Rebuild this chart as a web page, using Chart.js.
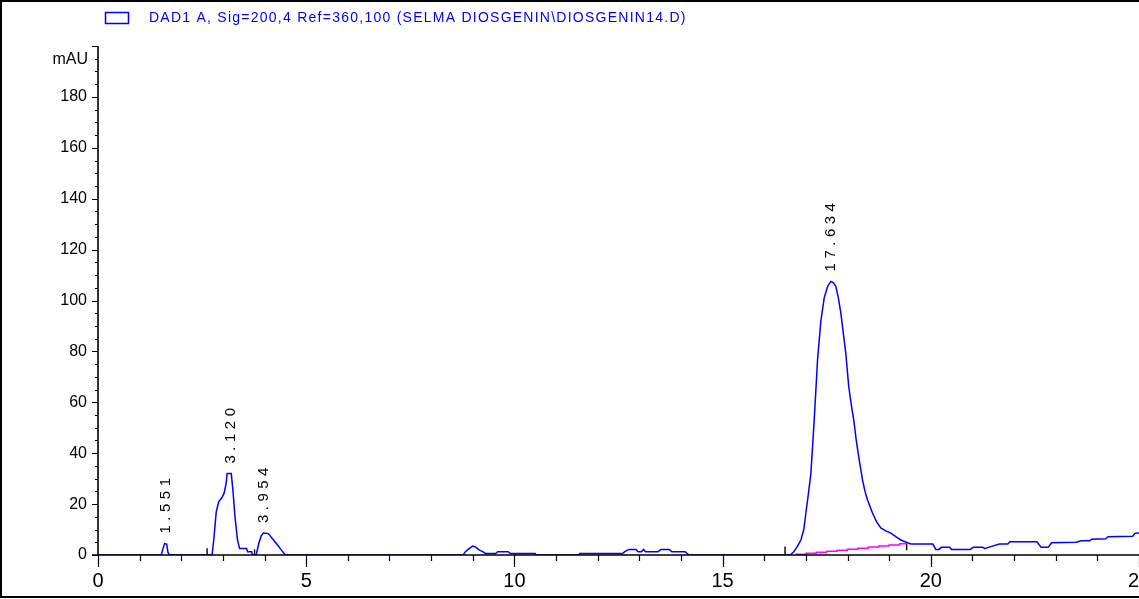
<!DOCTYPE html>
<html>
<head>
<meta charset="utf-8">
<title>DAD1 A - DIOSGENIN14</title>
<script src="https://cdn.jsdelivr.net/npm/chart.js@4.4.1/dist/chart.umd.min.js"></script>
<style>
  html, body { margin: 0; padding: 0; background: #fff; }
  #wrap { width: 1139px; height: 599px; }
</style>
</head>
<body>
<div id="wrap"><canvas id="grafico" width="1139" height="599"></canvas></div>
<script>
/* cromatograma DAD1 A - diosgenina */

const legendText = "DAD1 A, Sig=200,4 Ref=360,100 (SELMA DIOSGENIN\\DIOSGENIN14.D)";

// sinal (min, mAU)
const traceTimes = [
  0, 1.52, 1.56, 1.6, 1.65, 1.68, 1.72,
  2.74, 2.78, 2.84, 2.9, 2.97, 3.03, 3.08, 3.1, 3.2, 3.24, 3.29, 3.35, 3.4, 3.57, 3.59, 3.69, 3.71,
  3.8, 3.86, 3.92, 3.97, 4.09, 4.2, 4.3, 4.4, 4.5,
  8.77, 8.82, 8.9, 9.0, 9.08, 9.15, 9.25, 9.3, 9.55, 9.6, 9.85, 9.9, 10.5, 10.52,
  11.55, 11.57, 12.6, 12.65, 12.75, 12.92, 12.97, 13.05, 13.1, 13.15, 13.45, 13.52, 13.72, 13.78, 14.1, 14.15, 14.19,
  16.62, 16.71, 16.8, 16.88, 16.95, 17.0, 17.06, 17.12, 17.2, 17.28, 17.36, 17.44, 17.52, 17.6, 17.66,
  17.72, 17.78, 17.84, 17.9, 17.96, 18.03, 18.1, 18.15, 18.21, 18.27, 18.36, 18.42, 18.48, 18.6, 18.7,
  18.8, 18.92, 19.04, 19.16, 19.28, 19.44, 19.52,
  20.05, 20.12, 20.2, 20.25, 20.45, 20.5, 20.95, 21.02, 21.25, 21.3, 21.38, 21.65, 21.85, 21.9, 22.55,
  22.65, 22.82, 22.9, 23.5, 23.6, 23.82, 23.86, 24.2, 24.26, 24.85, 24.9, 25
];
const traceValues = [
  0, 0, 2.5, 4.5, 4.3, 1.0, 0,
  0, 6, 17, 21, 22.4, 24.4, 28.3, 32, 32, 25.5, 15, 5.9, 2.6, 2.6, 1.3, 1.3, 0,
  0, 4.5, 7.5, 8.6, 8.4, 6.2, 4.2, 2.0, 0,
  0, 1.2, 2.4, 3.5, 3.0, 2.0, 1.2, 0.6, 0.6, 1.3, 1.3, 0.6, 0.6, 0,
  0, 0.6, 0.6, 1.3, 2.2, 2.2, 1.3, 1.3, 2.2, 1.3, 1.3, 2.2, 2.2, 1.3, 1.3, 0.6, 0,
  0, 1.3, 3.5, 5.9, 10, 16.5, 24, 32, 53, 76.6, 92, 101, 105.5, 107.5, 107,
  105.5, 101, 95, 87, 79, 66, 58, 53, 45, 38.5, 29.5, 25, 21.6, 16.5, 13,
  10.6, 9.5, 8.6, 7.2, 5.9, 4.8, 4.3,
  4.3, 2.2, 2.2, 3.0, 3.0, 2.2, 2.2, 3.0, 3.0, 2.5, 3.0, 4.3, 4.3, 5.2, 5.2,
  3.0, 3.0, 4.8, 5.0, 5.6, 5.6, 6.2, 6.4, 7.2, 7.4, 8.5, 8.6
];

// linha de base da integração do pico 17.634
const baseTimes = [16.75, 17.0, 17.25, 17.5, 17.75, 18.0, 18.25, 18.5, 18.75, 19.0, 19.25, 19.42];
const baseValues = [0.3, 0.7, 1.1, 1.5, 1.9, 2.3, 2.7, 3.1, 3.5, 3.9, 4.4, 4.4];

// marcas de início/fim de integração
const markerTimes = [2.62, 3.76, 16.5, 19.42];
const markerLow = [0, 0, 0, 1.9];
const markerHigh = [2.7, 2.2, 3.3, 4.4];

// picos anotados
const peakNames = ["1.551", "3.120", "3.954", "17.634"];
const peakTimes = [1.63, 3.18, 3.99, 17.6];
const peakTops = [4.5, 32, 8.6, 107.5];

const xMin = 0, xMax = 25, xMajor = 5, xMinor = 1;
const yMin = 0, yMax = 200, yMajor = 20, yMinor = 5;
const yUnit = "mAU";

const AZUL = "#0000ff";
const MAGENTA = "#ff00ff";

(function () {
  const pts = (xs, ys) => xs.map((x, i) => ({ x, y: ys[i] }));

  const markerData = [];
  markerTimes.forEach((t, i) => {
    markerData.push({ x: t, y: markerLow[i] }, { x: t, y: markerHigh[i] }, { x: t, y: null });
  });

  const eixosPlugin = {
    id: "eixos",
    afterDatasetsDraw(chart) {
      const { ctx, chartArea } = chart;
      const xs = chart.scales.x, ys = chart.scales.y;
      const x0 = xs.getPixelForValue(xMin);
      const y0 = ys.getPixelForValue(yMin);
      const yTop = ys.getPixelForValue(yMax);

      ctx.save();
      ctx.strokeStyle = "#000";

      // eixos
      ctx.lineWidth = 1.6;
      ctx.beginPath();
      ctx.moveTo(x0, yTop); ctx.lineTo(x0, y0);
      ctx.moveTo(x0 - 6, y0); ctx.lineTo(chartArea.right, y0);
      ctx.stroke();

      // marcas do eixo y
      ctx.lineWidth = 1.2;
      ctx.beginPath();
      for (let v = yMin; v <= yMax + 0.001; v += yMinor) {
        const py = Math.round(ys.getPixelForValue(v)) + 0.5;
        const len = (v % yMajor === 0) ? 6 : 3;
        ctx.moveTo(x0 - len, py); ctx.lineTo(x0, py);
      }
      // marcas do eixo x
      for (let v = xMin; v <= xMax + 0.001; v += xMinor) {
        const px = Math.round(xs.getPixelForValue(v)) + 0.5;
        const len = (v % xMajor === 0) ? 12 : 6;
        ctx.moveTo(px, y0); ctx.lineTo(px, y0 + len);
      }
      ctx.stroke();

      // unidade
      ctx.fillStyle = "#000";
      ctx.font = "16px Arial, 'Liberation Sans', sans-serif";
      ctx.textAlign = "right";
      ctx.textBaseline = "middle";
      ctx.fillText(yUnit, x0 - 10, ys.getPixelForValue(yMax) + 14);

      // rótulos dos picos
      ctx.font = "15px Arial, 'Liberation Sans', sans-serif";
      ctx.letterSpacing = "4.5px";
      ctx.textAlign = "left";
      peakNames.forEach((nome, i) => {
        const px = xs.getPixelForValue(peakTimes[i]);
        const py = ys.getPixelForValue(peakTops[i]) - 10;
        ctx.save();
        ctx.translate(px, py);
        ctx.rotate(-Math.PI / 2);
        ctx.fillText(nome, 0, 0);
        ctx.restore();
      });
      ctx.letterSpacing = "0px";

      // legenda
      ctx.strokeStyle = AZUL;
      ctx.lineWidth = 1.5;
      ctx.strokeRect(105.5, 12.5, 23, 11);
      ctx.fillStyle = AZUL;
      ctx.font = "14px Arial, 'Liberation Sans', sans-serif";
      ctx.letterSpacing = "1.25px";
      ctx.textAlign = "left";
      ctx.fillText(legendText, 149, 18);
      ctx.letterSpacing = "0px";

      // moldura
      ctx.strokeStyle = "#000";
      ctx.lineWidth = 2;
      ctx.beginPath();
      ctx.moveTo(1, 598); ctx.lineTo(1, 1); ctx.lineTo(chart.width, 1);
      ctx.moveTo(0, 597); ctx.lineTo(chart.width, 597);
      ctx.stroke();

      ctx.restore();
    }
  };

  new Chart(document.getElementById("grafico"), {
    type: "line",
    data: {
      datasets: [
        { data: pts(traceTimes, traceValues), borderColor: AZUL, borderWidth: 1.5, pointRadius: 0, tension: 0, fill: false },
        { data: pts(baseTimes, baseValues), borderColor: MAGENTA, borderWidth: 1.5, pointRadius: 0, stepped: true, fill: false },
        { data: markerData, borderColor: "#000", borderWidth: 1.4, pointRadius: 0, spanGaps: false, fill: false }
      ]
    },
    options: {
      responsive: false,
      animation: false,
      devicePixelRatio: 1,
      events: [],
      layout: { padding: { top: 46, left: 0, right: 0, bottom: 0 } },
      plugins: { legend: { display: false }, tooltip: { enabled: false } },
      scales: {
        x: {
          type: "linear", min: xMin, max: xMax,
          grid: { display: false, drawTicks: false },
          border: { display: false },
          ticks: { stepSize: xMajor, maxRotation: 0, color: "#000", padding: 14,
                   font: { family: "Arial, 'Liberation Sans', sans-serif", size: 20 } },
          afterFit: s => { s.height = 44; s.paddingLeft = 0; s.paddingRight = 0; }
        },
        y: {
          type: "linear", min: yMin, max: yMax,
          grid: { display: false, drawTicks: false },
          border: { display: false },
          ticks: { stepSize: yMajor, color: "#000", padding: 11,
                   callback: v => (v === yMax ? "" : v),
                   font: { family: "Arial, 'Liberation Sans', sans-serif", size: 16 } },
          afterFit: s => { s.width = 98; s.paddingTop = 0; s.paddingBottom = 0; }
        }
      }
    },
    plugins: [eixosPlugin]
  });
})();
</script>
</body>
</html>
